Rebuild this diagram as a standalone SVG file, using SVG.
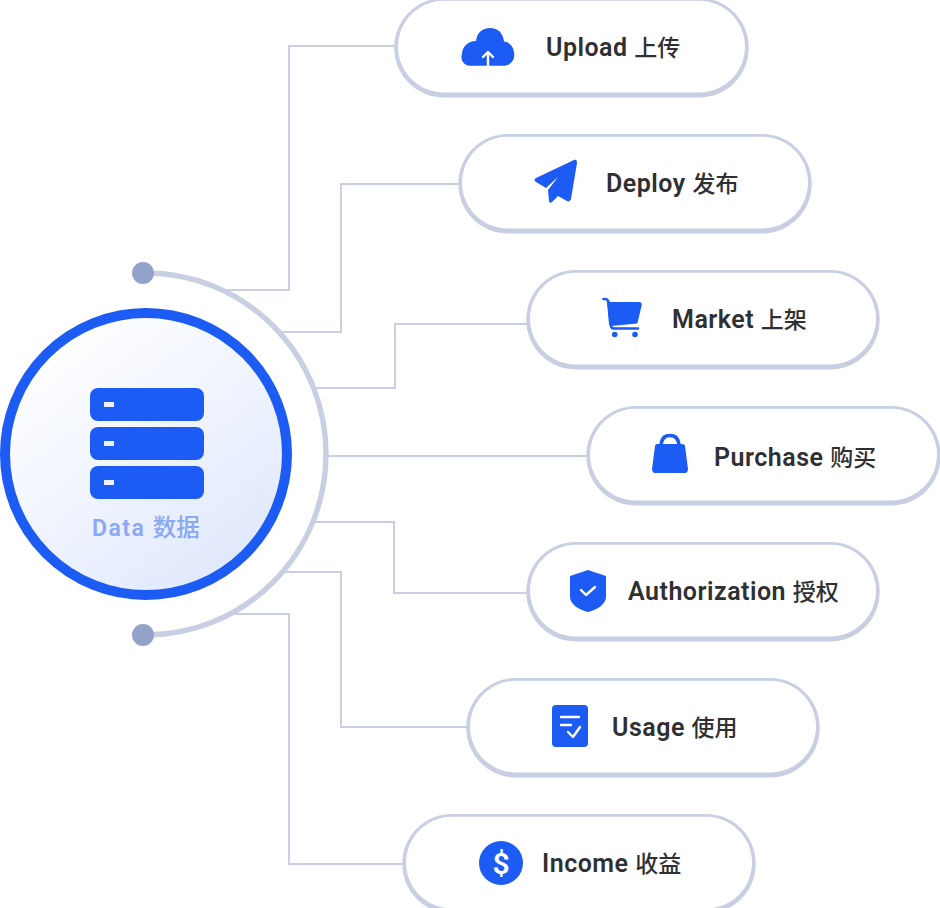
<svg xmlns="http://www.w3.org/2000/svg" width="940" height="908" viewBox="0 0 940 908">
<style>
.pill-o{fill:#c8cfe3}
.pill-i{fill:#fff}
.ic{fill:#1d5bf5}
.cutl{fill:none;stroke:#fff;stroke-width:2.4;stroke-linecap:round;stroke-linejoin:round}
.lab{font-family:"Roboto","Noto Sans CJK SC",sans-serif;font-weight:600;font-size:25px;letter-spacing:.5px;fill:#2f3033}
.cjk{font-family:"Noto Sans CJK SC",sans-serif;font-size:23px;font-weight:500;letter-spacing:0}
.con{fill:none;stroke:#c8cfe3;stroke-width:2}
</style>
<defs>
<linearGradient id="g" x1="0.15" y1="0.1" x2="0.8" y2="0.95"><stop offset="0" stop-color="#ffffff"/><stop offset="1" stop-color="#dfe8fc"/></linearGradient>
</defs>
<g id="connectors">
<path class="con" d="M227 290H289V46H395"/>
<path class="con" d="M282 332H341V184H459"/>
<path class="con" d="M315 388H395V324H527"/>
<path class="con" d="M328 456H587"/>
<path class="con" d="M315 522H394V593H527"/>
<path class="con" d="M285 572H341V727H467"/>
<path class="con" d="M232 614H289V864H403"/>
</g>
<g id="data">
<path d="M143 273H146A180 181 0 0 1 146 635H143" fill="none" stroke="#c8cfe3" stroke-width="5.4"/>
<circle cx="143" cy="273" r="11" fill="#93a2c8"/>
<circle cx="143" cy="635" r="11" fill="#93a2c8"/>
<circle cx="146" cy="454" r="141" fill="url(#g)" stroke="#1d5bf5" stroke-width="10"/>
<rect class="ic" x="90" y="388" width="114" height="33" rx="8"/>
<rect class="ic" x="90" y="427" width="114" height="33" rx="8"/>
<rect class="ic" x="90" y="466" width="114" height="33" rx="8"/>
<rect x="104" y="402" width="10" height="5" fill="#eef2fd"/>
<rect x="104" y="441" width="10" height="5" fill="#eef2fd"/>
<rect x="104" y="480" width="10" height="5" fill="#eef2fd"/>
<text x="92" y="536" style="font-family:'Roboto','Noto Sans CJK SC',sans-serif;font-size:23px;font-weight:600;fill:#8aa8f8;letter-spacing:1.5px">Data <tspan class="cjk" style="font-size:23.500px;font-weight:500;letter-spacing:0;fill:#8aa8f8">数据</tspan></text>
</g>
<g id="upload">
<rect class="pill-o" x="394.300" y="-2" width="354.400" height="99.500" rx="49.500"/>
<rect class="pill-i" x="398" y="0.700" width="347" height="91.800" rx="45.900"/>
<path class="ic" d="M470 65.700A8.500 8.500 0 0 1 462 54C462 47 468 41 476 41C477 33 482 28 490 28C498 28 503 33 504 41.500C510 42 514.300 48 514.300 54.500C514.300 61 510 65.700 503 65.700Z"/>
<path class="cutl" d="M488 65.700V53" stroke-width="3.400" stroke-linecap="butt"/>
<path class="cutl" d="M483 57L488 52L493 57" stroke-width="2.600"/>
<text class="lab" x="546" y="55.500">Upload <tspan class="cjk">上传</tspan></text>
</g>
<g id="deploy">
<rect class="pill-o" x="458.300" y="134" width="353.400" height="99.500" rx="49.500"/>
<rect class="pill-i" x="462" y="136.700" width="346" height="91.800" rx="45.900"/>
<path class="ic" d="M574 160L536 178C534 179 534 181 536 182L546 188L558 177L548 190L549 201C549 203 551 203 552 202L558 196L567 201C569 202 570 201 571 199L577 163C577 160 576 159 574 160Z"/>
<text class="lab" x="606" y="191.700">Deploy <tspan class="cjk">发布</tspan></text>
</g>
<g id="market">
<rect class="pill-o" x="526.300" y="270" width="353.400" height="99.500" rx="49.500"/>
<rect class="pill-i" x="530" y="272.700" width="346" height="91.800" rx="45.900"/>
<path class="ic" d="M607 302H639C641 302 642 303 641.700 305L638 321C638 323 637 323.500 635 323.700L611 326C610 326 609.500 326 609 324Z"/>
<path d="M603.500 299H605C607 299 608 300 608.500 302L611 326C611.300 328 612 328.500 614 328.500H638" fill="none" stroke="#1d5bf5" stroke-width="2.600" stroke-linecap="round"/>
<circle class="ic" cx="614.700" cy="334.500" r="2.800"/><circle class="ic" cx="635" cy="334.500" r="2.800"/>
<text class="lab" x="672" y="327.700">Market <tspan class="cjk">上架</tspan></text>
</g>
<g id="purchase">
<rect class="pill-o" x="586.300" y="406" width="354.400" height="99.500" rx="49.500"/>
<rect class="pill-i" x="590" y="408.700" width="347" height="91.800" rx="45.900"/>
<path class="ic" d="M657 444H682C684 444 685 445 685 446L688 469C688 471 687 473 685 473H655C653 473 652 471 652 469L655 446C655 445 656 444 657 444Z"/>
<path d="M661 447C661 438 665 435.500 670 435.500C675 435.500 679 438 679 447" fill="none" stroke="#1d5bf5" stroke-width="3.500"/>
<text class="lab" x="714" y="465.500">Purchase <tspan class="cjk">购买</tspan></text>
</g>
<g id="authorization">
<rect class="pill-o" x="526.300" y="542" width="353.400" height="99.500" rx="49.500"/>
<rect class="pill-i" x="530" y="544.700" width="346" height="91.800" rx="45.900"/>
<path class="ic" d="M588 570L606 576V597C606 604 597 610 588 612C579 610 570 604 570 597V576Z"/>
<path class="cutl" d="M581 590L586 595L595 587" stroke-width="2"/>
<text class="lab" x="628" y="600">Authorization <tspan class="cjk">授权</tspan></text>
</g>
<g id="usage">
<rect class="pill-o" x="466.300" y="678" width="353.400" height="99.500" rx="49.500"/>
<rect class="pill-i" x="470" y="680.700" width="346" height="91.800" rx="45.900"/>
<rect class="ic" x="552" y="705" width="36" height="42" rx="4"/>
<path class="cutl" d="M561 717H579M561 725H571M568 732L573 737L580 727" stroke-width="2"/>
<text class="lab" x="612" y="735.700">Usage <tspan class="cjk">使用</tspan></text>
</g>
<g id="income">
<rect class="pill-o" x="402.300" y="814" width="353.400" height="99.500" rx="49.500"/>
<rect class="pill-i" x="406" y="816.700" width="346" height="91.800" rx="45.900"/>
<circle class="ic" cx="501" cy="863" r="22"/>
<text x="501" y="873.500" text-anchor="middle" style="font-family:'Roboto',sans-serif;font-size:30px;font-weight:600;fill:#fff">$</text>
<text class="lab" x="542" y="871.700">Income <tspan class="cjk">收益</tspan></text>
</g>
</svg>
